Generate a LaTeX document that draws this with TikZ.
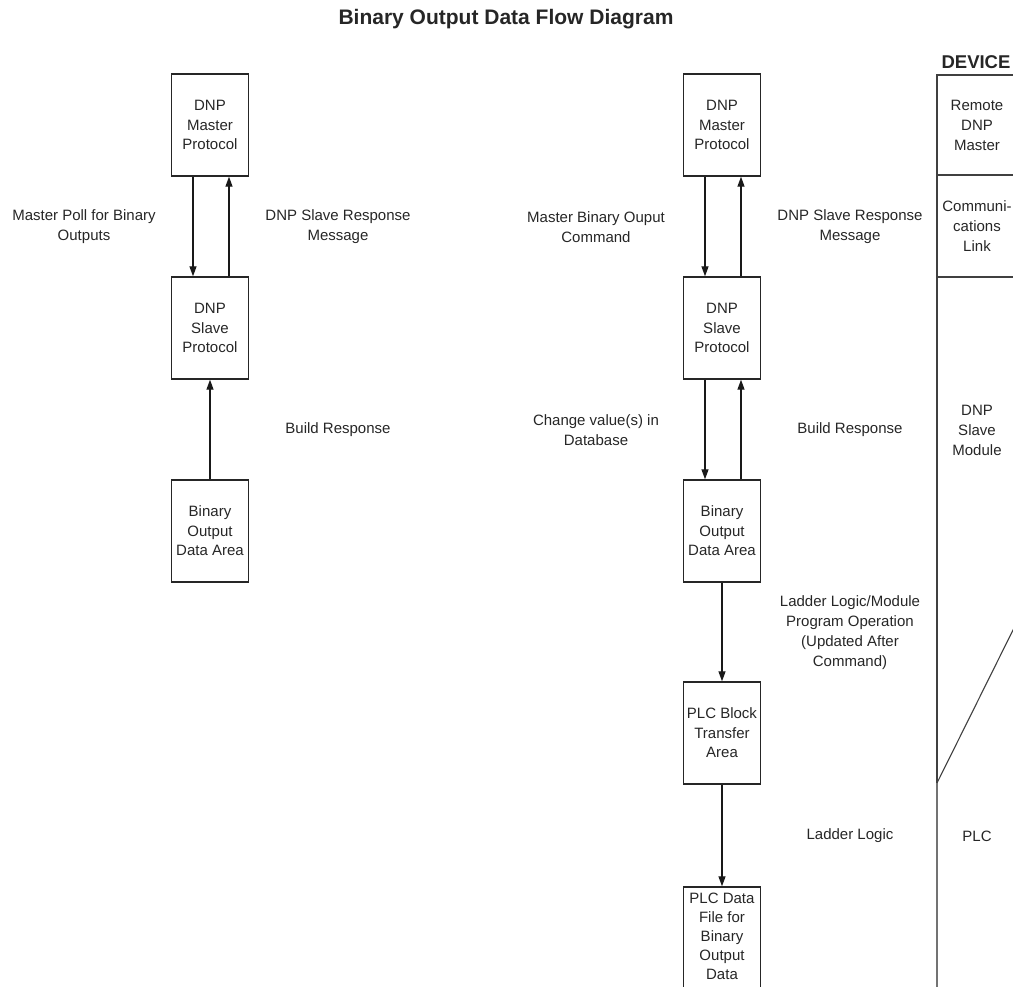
\documentclass[tikz,border=0pt]{standalone}
\usepackage{fontspec}
\setmainfont{Liberation Sans}
\usetikzlibrary{arrows.meta}
\begin{document}
\begin{tikzpicture}[x=1pt,y=-1pt,
  every node/.style={text=black!85},
  box/.style={draw=black!85,line width=1.4pt,minimum width=77pt,minimum height=102pt,inner sep=0pt,align=center,font=\fontsize{15}{19.5}\selectfont},
  lbl/.style={align=center,inner sep=0pt,font=\fontsize{15}{20}\selectfont},
  arr/.style={draw=black!90,line width=1.3pt,-{Triangle[length=10pt,width=7pt]}},
  dev/.style={draw=black!75,line width=1.4pt}]
\useasboundingbox (0,0) rectangle (1013,987);
\clip (0,0) rectangle (1013,987);
% title
\node[font=\fontsize{21}{25}\selectfont\bfseries,inner sep=0pt] (title) at (506,19) {Binary Output Data Flow Diagram};
% left column
\node[box] (lm) at (210,125) {DNP\\Master\\Protocol};
\node[box] (ls) at (210,328) {DNP\\Slave\\Protocol};
\node[box] (lb) at (210,531) {Binary\\Output\\Data Area};
\draw[arr] ([xshift=-17pt]lm.south) -- ([xshift=-17pt]ls.north);
\draw[arr] ([xshift=19pt]ls.north) -- ([xshift=19pt]lm.south);
\draw[arr] (lb.north) -- (ls.south);
\node[lbl] (l1) at (84,227) {Master Poll for Binary\\Outputs};
\node[lbl] (l2) at (338,227) {DNP Slave Response\\Message};
\node[lbl] (l3) at (338,430) {Build Response};
% right column
\node[box] (rm) at (722,125) {DNP\\Master\\Protocol};
\node[box] (rs) at (722,328) {DNP\\Slave\\Protocol};
\node[box] (rb) at (722,531) {Binary\\Output\\Data Area};
\node[box] (rp) at (722,733) {PLC Block\\Transfer\\Area};
\node[box,minimum height=120pt] (rd) at (722,947) {};
\node[lbl,anchor=north,font=\fontsize{15}{19}\selectfont] (rdt) at (722,893) {PLC Data\\File for\\Binary\\Output\\Data};
\draw[arr] ([xshift=-17pt]rm.south) -- ([xshift=-17pt]rs.north);
\draw[arr] ([xshift=19pt]rs.north) -- ([xshift=19pt]rm.south);
\draw[arr] ([xshift=-17pt]rs.south) -- ([xshift=-17pt]rb.north);
\draw[arr] ([xshift=19pt]rb.north) -- ([xshift=19pt]rs.south);
\draw[arr] (rb.south) -- (rp.north);
\draw[arr] (rp.south) -- (rd.north);
\node[lbl] (r1) at (596,227) {Master Binary Ouput\\Command};
\node[lbl] (r2) at (850,227) {DNP Slave Response\\Message};
\node[lbl] (r3) at (596,430) {Change value(s) in\\Database};
\node[lbl] (r4) at (850,430) {Build Response};
\node[lbl] (r5) at (850,633) {Ladder Logic/Module\\Program Operation\\(Updated After\\Command)};
\node[lbl] (r6) at (850,836) {Ladder Logic};
% device column
\node[font=\fontsize{18.5}{22}\selectfont\bfseries,inner sep=0pt] (devt) at (976,62) {DEVICE};
\coordinate (d0) at (937,75);
\coordinate (d1) at (937,175);
\coordinate (d2) at (937,277);
\coordinate (d3) at (937,783);
\coordinate (d4) at (937,995);
\draw[dev] (1020,75) -- (d0) -- (d3);
\draw[dev,draw=black!55] (d3) -- (d4);
\draw[dev] (d1) -- (1020,175);
\draw[dev] (d2) -- (1020,277);
\draw[draw=black!75,line width=1.1pt] (d3) -- ++(80,-161);
\node[lbl] (dv1) at (977,125) {Remote\\DNP\\Master};
\node[lbl] (dv2) at (977,226) {Communi-\\cations\\Link};
\node[lbl] (dv3) at (977,430) {DNP\\Slave\\Module};
\node[lbl] (dv4) at (977,836) {PLC};
\end{tikzpicture}
\end{document}
